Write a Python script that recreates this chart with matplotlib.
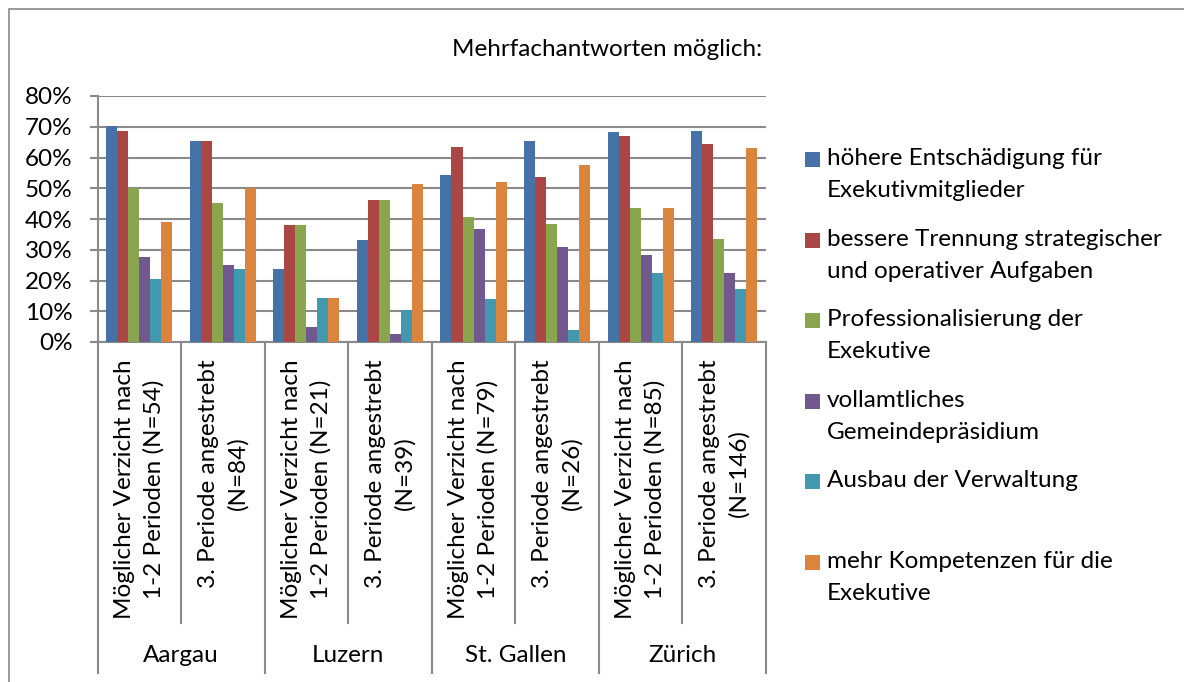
import numpy as np
import matplotlib.pyplot as plt
from matplotlib.patches import Rectangle

plt.rcParams['font.family'] = ['Lato', 'DejaVu Sans']

# data (shares of respondents)
groups = ["Aargau", "Luzern", "St. Gallen", "Zürich"]
categories = [
    "Möglicher Verzicht nach\n1-2 Perioden (N=54)", "3. Periode angestrebt\n(N=84)",
    "Möglicher Verzicht nach\n1-2 Perioden (N=21)", "3. Periode angestrebt\n(N=39)",
    "Möglicher Verzicht nach\n1-2 Perioden (N=79)", "3. Periode angestrebt\n(N=26)",
    "Möglicher Verzicht nach\n1-2 Perioden (N=85)", "3. Periode angestrebt\n(N=146)",
]
series_labels = [
    "höhere Entschädigung für\nExekutivmitglieder",
    "bessere Trennung strategischer\nund operativer Aufgaben",
    "Professionalisierung der\nExekutive",
    "vollamtliches\nGemeindepräsidium",
    "Ausbau der Verwaltung",
    "mehr Kompetenzen für die\nExekutive",
]
hoehere_entschaedigung = [0.704, 0.655, 0.238, 0.333, 0.544, 0.654, 0.682, 0.685]
bessere_trennung = [0.685, 0.655, 0.381, 0.462, 0.633, 0.538, 0.671, 0.644]
professionalisierung = [0.500, 0.452, 0.381, 0.462, 0.405, 0.385, 0.435, 0.336]
vollamtlich = [0.278, 0.250, 0.048, 0.026, 0.367, 0.308, 0.282, 0.226]
ausbau_verwaltung = [0.204, 0.238, 0.143, 0.103, 0.139, 0.038, 0.224, 0.171]
mehr_kompetenzen = [0.389, 0.500, 0.143, 0.513, 0.519, 0.577, 0.435, 0.630]
y_ticks = [0, 0.1, 0.2, 0.3, 0.4, 0.5, 0.6, 0.7, 0.8]

series = [hoehere_entschaedigung, bessere_trennung, professionalisierung,
          vollamtlich, ausbau_verwaltung, mehr_kompetenzen]
colors = ["#4572A7", "#AA4643", "#89A54E", "#71588F", "#4198AF", "#DB843D"]
GRID = "#8a8a8a"
FS = 17.5

W, H = 1184, 682
fig = plt.figure(figsize=(W / 100, H / 100), dpi=100)
ax = fig.add_axes([97.5 / W, 1 - 342 / H, (766 - 97.5) / W, (342 - 96) / H])

x = np.arange(len(categories))
bw = 0.132
for i, (vals, col) in enumerate(zip(series, colors)):
    ax.bar(x + (i - 2.5) * bw, vals, width=bw, color=col, linewidth=0, zorder=3)

ax.set_xlim(-0.5, len(categories) - 0.5)
ax.set_ylim(0, 0.8)
ax.set_yticks(y_ticks)
ax.set_yticklabels([f"{int(round(t * 100))}%" for t in y_ticks], fontsize=FS)
ax.yaxis.grid(True, color=GRID, linewidth=1.5, zorder=0)
ax.tick_params(axis="y", length=6, width=1.5, color=GRID, pad=12)
ax.set_xticks([])
for side in ["top", "right"]:
    ax.spines[side].set_visible(False)
for side in ["left", "bottom"]:
    ax.spines[side].set_color(GRID)
    ax.spines[side].set_linewidth(1.5)

# category axis: rotated labels, separators, group names
tr = ax.get_xaxis_transform()
for xi, lab in zip(x, categories):
    ax.text(xi, -0.07, lab, transform=tr, rotation=90, ha="center", va="top",
            multialignment="center", fontsize=FS, linespacing=1.45)
for k in range(len(categories) + 1):
    xs = k - 0.5
    y_end = -1.346 if k % 2 == 0 else -1.142
    ax.plot([xs, xs], [0, y_end], transform=tr, color=GRID, linewidth=1.5, clip_on=False)
for g, name in enumerate(groups):
    ax.text(2 * g + 0.5, -1.275, name, transform=tr, ha="center", va="center", fontsize=FS)

# title
fig.text(762 / W, 1 - 50 / H, "Mehrfachantworten möglich:", ha="right", va="center", fontsize=FS)

# legend drawn beside the plot
for i, (lab, col) in enumerate(zip(series_labels, colors)):
    top = 152 + i * 80.6
    fig.add_artist(Rectangle((805 / W, 1 - (top + 15) / H), 15 / W, 15 / H,
                             transform=fig.transFigure, color=col, linewidth=0))
    fig.text(827 / W, 1 - (top - 4) / H, lab, ha="left", va="top",
             fontsize=FS, linespacing=1.65)

# outer frame
fig.add_artist(Rectangle((9 / W, -0.1), 1.2, 1.1 - 9 / H, transform=fig.transFigure,
                         fill=False, edgecolor=GRID, linewidth=1.2))

fig.savefig("out.png", dpi=100)
